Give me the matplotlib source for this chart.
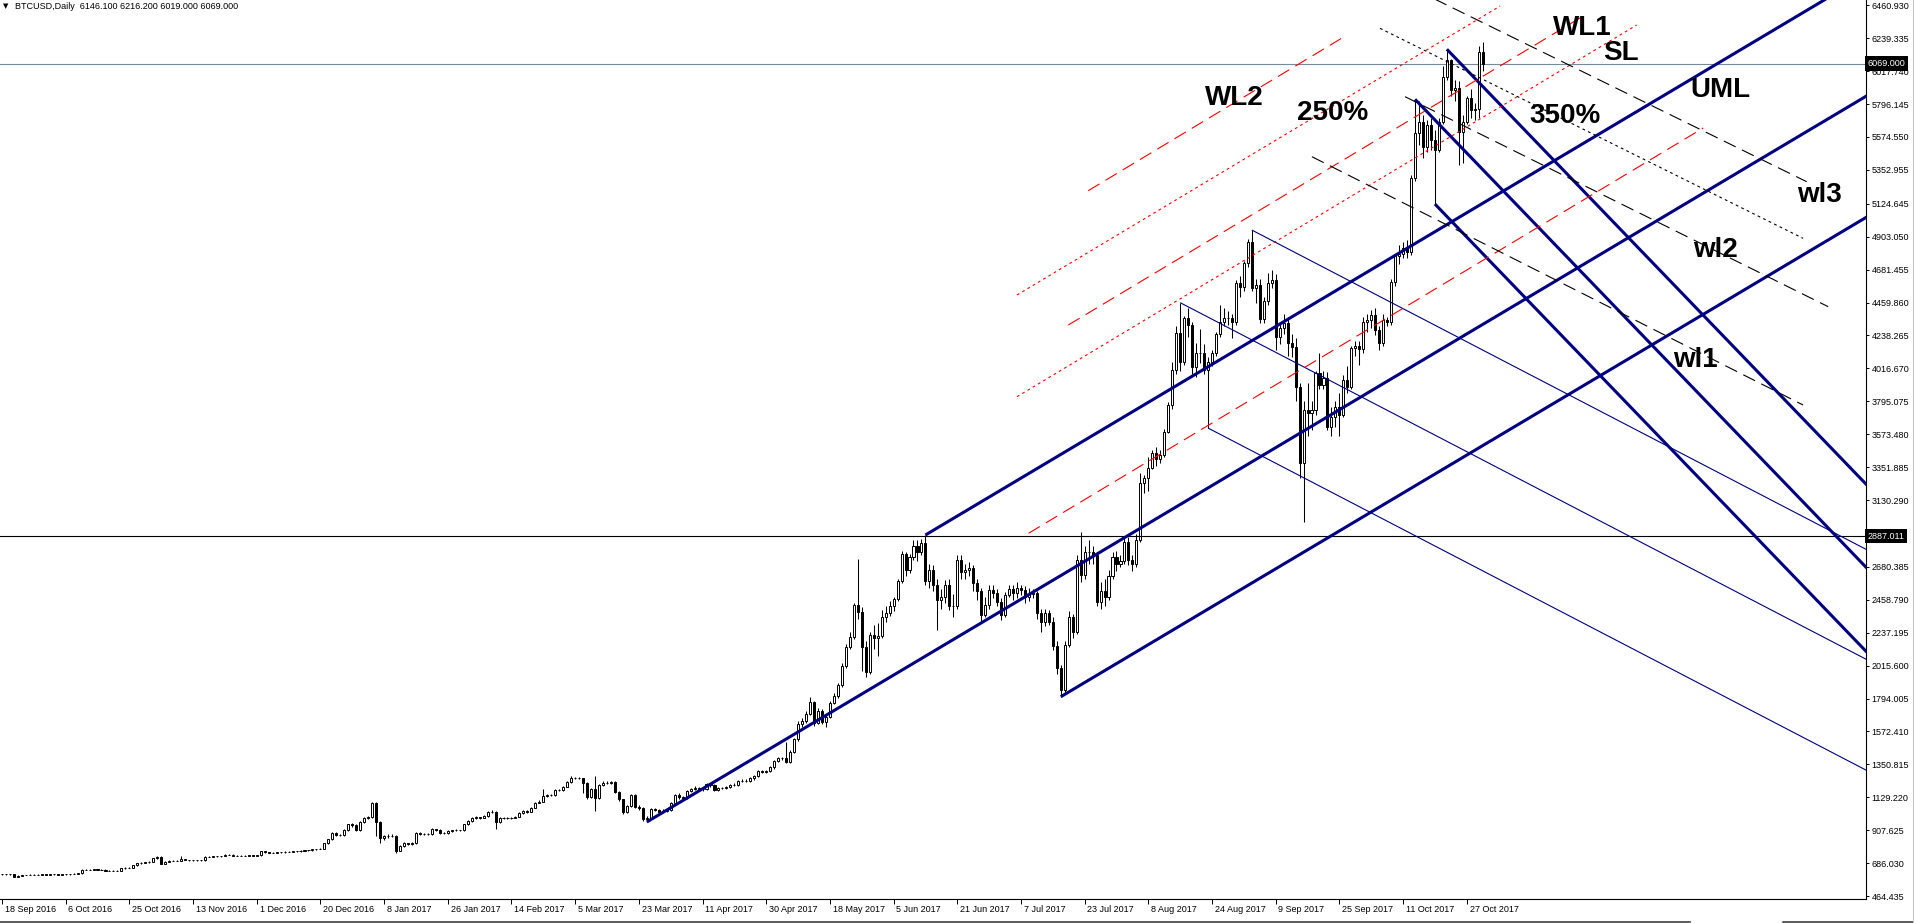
import matplotlib
matplotlib.use("Agg")
import matplotlib.pyplot as plt
from matplotlib.lines import Line2D
from matplotlib.transforms import blended_transform_factory


FIGURE_PNG = "out.png"
DPI = 100
FIG_W, FIG_H = 1915, 923
PLOT_RIGHT, PLOT_BOTTOM = 1866, 899

# visible window: bar index and price
X_MIN, X_MAX = -0.5, 468.3
Y_MIN, Y_MAX = 444.5, 6496.6

HEADER = "BTCUSD,Daily  6146.100 6216.200 6019.000 6069.000"

# daily bars, 18 Sep 2016 .. end of Oct 2017 (open = previous close)
FIRST_OPEN = 615
CLOSES = [
  611, 610, 610, 594, 601, 606, 607, 608, 608, 609,
  610, 609, 610, 611, 609, 610, 611, 614, 616, 617,
  643, 643, 642, 644, 643, 642, 636, 635, 635, 636,
  652, 654, 653, 672, 684, 688, 692, 695, 718, 728,
  682, 696, 702, 701, 703, 714, 707, 706, 705, 706,
  705, 729, 729, 731, 733, 734, 742, 743, 736, 735,
  737, 736, 738, 737, 740, 767, 760, 757, 756, 758,
  760, 762, 763, 765, 767, 770, 772, 774, 780, 781,
  783, 819, 846, 891, 878, 875, 909, 947, 942, 909,
  965, 992, 994, 1088, 965, 853, 866, 870, 868, 770,
  801, 819, 815, 819, 886, 880, 880, 882, 913, 910,
  887, 887, 902, 907, 907, 907, 947, 970, 992, 994,
  992, 1003, 1032, 1032, 961, 992, 988, 992, 992, 999,
  1026, 1037, 1032, 1059, 1093, 1100, 1138, 1145, 1145, 1178,
  1178, 1201, 1234, 1257, 1257, 1257, 1223, 1129, 1183, 1122,
  1212, 1228, 1228, 1230, 1167, 1115, 1032, 1070, 1145, 1066,
  1055, 981, 990, 1048, 1043, 1032, 1040, 1042, 1088, 1144,
  1128, 1122, 1171, 1183, 1194, 1186, 1183, 1216, 1212, 1180,
  1190, 1192, 1201, 1212, 1214, 1239, 1240, 1241, 1257, 1272,
  1306, 1302, 1306, 1330, 1373, 1391, 1391, 1369, 1436, 1519,
  1620, 1643, 1688, 1773, 1632, 1710, 1638, 1672, 1766, 1811,
  1885, 2015, 2143, 2210, 2423, 2378, 2143, 1975, 2222, 2200,
  2215, 2345, 2372, 2417, 2464, 2585, 2765, 2659, 2749, 2821,
  2782, 2843, 2587, 2659, 2558, 2457, 2475, 2558, 2417, 2420,
  2727, 2648, 2659, 2670, 2569, 2520, 2356, 2423, 2524, 2502,
  2446, 2356, 2491, 2529, 2507, 2536, 2524, 2480, 2498, 2502,
  2372, 2311, 2372, 2311, 2148, 1997, 1851, 2154, 2341, 2244,
  2727, 2626, 2782, 2782, 2760, 2446, 2520, 2480, 2620, 2750,
  2700, 2720, 2850, 2730, 2700, 2860, 3243, 3276, 3344, 3445,
  3404, 3434, 3590, 3770, 4006, 4252, 4062, 4353, 4308, 4028,
  4120, 4118, 4006, 4062, 4118, 4248, 4330, 4353, 4353, 4330,
  4589, 4562, 4724, 4869, 4555, 4578, 4347, 4473, 4589, 4612,
  4230, 4286, 4324, 4185, 4160, 3894, 3377, 3736, 3714, 3736,
  3983, 3905, 3950, 3624, 3692, 3759, 3700, 3938, 3894, 4152,
  4170, 4150, 4331, 4340, 4376, 4275, 4185, 4342, 4331, 4600,
  4770, 4790, 4830, 4800, 5300, 5600, 5678, 5509, 5655, 5554,
  5487, 5678, 5980, 6093, 5891, 5902, 5610, 5678, 5835, 5756,
  5760, 6146, 6069,
]
HIGHS = [
  616, 613, 612, 611, 603, 608, 609, 610, 610, 611,
  612, 612, 612, 613, 613, 612, 613, 616, 618, 620,
  648, 646, 646, 647, 646, 645, 644, 638, 638, 639,
  655, 657, 657, 676, 688, 692, 696, 699, 722, 733,
  732, 699, 705, 705, 706, 735, 716, 710, 709, 709,
  709, 732, 733, 734, 736, 737, 745, 746, 745, 739,
  740, 740, 741, 741, 743, 771, 770, 763, 760, 761,
  763, 765, 766, 768, 770, 773, 775, 777, 783, 784,
  786, 823, 850, 896, 896, 884, 914, 952, 958, 948,
  970, 998, 1000, 1100, 1095, 972, 878, 880, 882, 876,
  808, 825, 824, 826, 895, 893, 888, 890, 920, 918,
  914, 894, 908, 912, 913, 912, 952, 976, 998, 1000,
  999, 1008, 1036, 1043, 1038, 997, 996, 998, 998, 1005,
  1030, 1042, 1041, 1064, 1098, 1108, 1183, 1152, 1152, 1184,
  1186, 1206, 1240, 1273, 1264, 1264, 1262, 1232, 1190, 1273,
  1220, 1236, 1236, 1238, 1240, 1172, 1120, 1078, 1152, 1150,
  1076, 1062, 1000, 1058, 1055, 1050, 1048, 1050, 1095, 1152,
  1158, 1140, 1178, 1192, 1202, 1200, 1194, 1224, 1225, 1218,
  1198, 1200, 1208, 1220, 1224, 1246, 1250, 1250, 1265, 1280,
  1315, 1315, 1314, 1340, 1382, 1400, 1402, 1503, 1445, 1525,
  1640, 1660, 1712, 1802, 1780, 1730, 1722, 1690, 1775, 1830,
  1900, 2030, 2160, 2240, 2440, 2731, 2410, 2180, 2240, 2290,
  2300, 2390, 2420, 2450, 2480, 2600, 2785, 2780, 2770, 2860,
  2860, 2870, 2895, 2700, 2690, 2600, 2530, 2590, 2600, 2500,
  2760, 2760, 2700, 2710, 2690, 2600, 2540, 2480, 2560, 2560,
  2530, 2470, 2510, 2560, 2560, 2580, 2560, 2550, 2540, 2530,
  2520, 2400, 2400, 2390, 2340, 2180, 2020, 2180, 2380, 2360,
  2760, 2917, 2820, 2860, 2820, 2780, 2580, 2600, 2660, 2780,
  2790, 2760, 2890, 2880, 2760, 2900, 3310, 3300, 3420, 3470,
  3490, 3470, 3610, 3790, 4060, 4300, 4459, 4370, 4420, 4330,
  4190, 4280, 4180, 4090, 4140, 4260, 4443, 4420, 4400, 4380,
  4610, 4640, 4740, 4890, 4948, 4620, 4620, 4500, 4660, 4680,
  4650, 4330, 4380, 4360, 4250, 4220, 3920, 3800, 3920, 3800,
  4000, 4120, 4000, 3990, 3760, 3800, 3850, 3970, 4030, 4170,
  4200, 4200, 4360, 4380, 4410, 4420, 4300, 4380, 4360, 4620,
  4790, 4850, 4870, 4880, 5320, 5828, 5820, 5720, 5690, 5700,
  5620, 5700, 6050, 6165, 6100, 5960, 5950, 5720, 5850, 5900,
  5800, 6190, 6216,
]
LOWS = [
  609, 608, 607, 590, 590, 599, 604, 605, 606, 606,
  607, 607, 607, 608, 607, 607, 608, 609, 612, 613,
  615, 640, 639, 640, 640, 639, 633, 632, 632, 633,
  634, 649, 650, 650, 669, 680, 684, 688, 692, 714,
  678, 679, 693, 698, 698, 700, 704, 703, 702, 702,
  702, 702, 725, 726, 729, 730, 731, 739, 733, 732,
  732, 733, 733, 734, 734, 737, 757, 754, 752, 753,
  755, 757, 759, 760, 762, 764, 767, 769, 771, 777,
  778, 780, 815, 842, 870, 866, 870, 900, 930, 900,
  905, 954, 985, 988, 868, 824, 845, 858, 860, 752,
  765, 795, 808, 810, 815, 872, 872, 874, 878, 902,
  882, 880, 884, 898, 900, 900, 903, 942, 965, 986,
  985, 988, 999, 1025, 913, 955, 982, 984, 986, 988,
  994, 1020, 1026, 1028, 1054, 1088, 1095, 1130, 1136, 1140,
  1170, 1172, 1196, 1228, 1250, 1250, 1160, 1120, 1122, 1039,
  1115, 1205, 1220, 1222, 1160, 1105, 1020, 1025, 1066, 1058,
  1045, 972, 963, 985, 1035, 1025, 1026, 1032, 1038, 1080,
  1118, 1112, 1115, 1165, 1175, 1180, 1172, 1175, 1200, 1170,
  1172, 1182, 1185, 1195, 1205, 1208, 1230, 1232, 1234, 1248,
  1265, 1292, 1295, 1298, 1322, 1365, 1380, 1360, 1360, 1430,
  1505, 1600, 1630, 1680, 1610, 1620, 1625, 1600, 1660, 1755,
  1800, 1870, 2000, 2130, 2195, 2330, 1979, 1940, 1960, 2130,
  2080, 2200, 2310, 2350, 2380, 2450, 2570, 2620, 2640, 2730,
  2720, 2760, 2560, 2540, 2520, 2255, 2400, 2440, 2390, 2340,
  2400, 2600, 2600, 2620, 2520, 2460, 2300, 2340, 2400, 2470,
  2420, 2320, 2340, 2480, 2460, 2470, 2490, 2440, 2450, 2470,
  2330, 2240, 2280, 2290, 2120, 1960, 1806, 1830, 2140, 2200,
  2230, 2580, 2600, 2700, 2700, 2420, 2400, 2420, 2460, 2600,
  2650, 2680, 2700, 2690, 2650, 2680, 2850, 3180, 3190, 3340,
  3360, 3380, 3420, 3580, 3740, 3980, 4000, 4040, 4230, 3980,
  3960, 4050, 3980, 3615, 4030, 4100, 4230, 4300, 4310, 4220,
  4310, 4500, 4540, 4700, 4540, 4460, 4320, 4320, 4440, 4560,
  4140, 4180, 4250, 4100, 4090, 3800, 3280, 2980, 3560, 3600,
  3700, 3880, 3880, 3600, 3560, 3620, 3560, 3690, 3850, 3880,
  4100, 4040, 4120, 4260, 4290, 4240, 4140, 4170, 4300, 4310,
  4570, 4720, 4760, 4760, 4780, 5280, 5520, 5430, 5470, 5490,
  5123, 5470, 5660, 5960, 5850, 5820, 5386, 5400, 5660, 5700,
  5690, 5700, 6019,
]

DATE_TICK_BARS = [0, 16, 32, 48, 64, 80, 96, 112, 128, 144, 160, 176,
                  192, 208, 224, 240, 256, 272, 288, 304, 320, 336, 352, 368]
DATE_LABELS = [
  "18 Sep 2016", "6 Oct 2016", "25 Oct 2016", "13 Nov 2016", "1 Dec 2016",
  "20 Dec 2016", "8 Jan 2017", "26 Jan 2017", "14 Feb 2017", "5 Mar 2017",
  "23 Mar 2017", "11 Apr 2017", "30 Apr 2017", "18 May 2017", "5 Jun 2017",
  "21 Jun 2017", "7 Jul 2017", "23 Jul 2017", "8 Aug 2017", "24 Aug 2017",
  "9 Sep 2017", "25 Sep 2017", "11 Oct 2017", "27 Oct 2017",
]
PRICE_TICKS = [
  6460.930, 6239.335, 6017.740, 5796.145, 5574.550, 5352.955, 5124.645,
  4903.050, 4681.455, 4459.860, 4238.265, 4016.670, 3795.075, 3573.480,
  3351.885, 3130.290, 2680.385, 2458.790, 2237.195, 2015.600, 1794.005,
  1572.410, 1350.815, 1129.220, 907.625, 686.030, 464.435,
]

BID_PRICE = 6069.000
LEVEL_PRICE = 2887.011

# pitchforks: anchor bars/prices and tine slope (price per bar)
FORK_MAIN_BARS = [162, 232, 266]
FORK_MAIN_PRICES = [963, 2895, 1806]
FORK_MAIN_SLOPE = 15.95
FORK_AUG_BARS = [296, 314, 303]
FORK_AUG_PRICES = [4459, 4948, 3615]
FORK_AUG_SLOPE = -13.93
FORK_OCT_BARS = [363, 355, 360]
FORK_OCT_PRICES = [6165, 5828, 5123]
FORK_OCT_SLOPE = -27.8
FORK_END_BAR = 472

# red warning lines (WL2, 250%, WL1, SL, half line)
RED_START_BARS = [272.9, 255.0, 267.9, 255.0, 257.9]
RED_START_PRICES = [5212.8, 4510.7, 4308.7, 3826.0, 2906.4]
RED_END_BARS = [337.9, 376.4, 397.7, 410.7, 427.4]
RED_END_PRICES = [6260.9, 6456.2, 6395.7, 6328.3, 5634.9]
RED_STYLES = ["dash", "dot", "dash", "dot", "dash"]

# black warning lines (wl3, 350%, wl2, wl1)
BLACK_START_BARS = [355.0, 346.2, 352.5, 329.1]
BLACK_START_PRICES = [6568.0, 6306.0, 5845.6, 5441.7]
BLACK_END_BARS = [453.4, 452.5, 458.8, 452.5]
BLACK_END_PRICES = [5273.4, 4892.0, 4432.0, 3770.0]
BLACK_STYLES = ["dash", "dot", "dash", "dash"]

LABELS = ["WL1", "SL", "UML", "350%", "250%", "WL2", "wl3", "wl2", "wl1"]
LABEL_BARS = [397.0, 406.8, 431.7, 392.7, 334.2, 309.5, 456.5, 430.4, 425.4]
LABEL_PRICES = [6261, 6092.7, 5843.6, 5668.6, 5688.8, 5789.7, 5136.7, 4766.5, 4026]

NAVY = "#000080"
RED = "#ff0000"
INK = "#000000"
BID_GREY = "#778899"
PAPER = "#ffffff"

LINE_STYLES = {
  "dash": (0, (9.5, 5.0)),
  "dot": (0, (2.0, 2.4)),
}


def _tine(ax, bar, price, slope, lw):
  xs = [bar, FORK_END_BAR]
  ys = [price, price + slope * (FORK_END_BAR - bar)]
  ax.plot(xs, ys, color=NAVY, linewidth=lw, solid_capstyle="butt", zorder=4)


def plot_btcusd_daily():
  plt.rcParams.update({
    "font.family": ["Liberation Sans", "DejaVu Sans"],
    "lines.scale_dashes": False,
  })

  fig = plt.figure(figsize=(FIG_W / DPI, FIG_H / DPI), dpi=DPI, facecolor=PAPER)
  ax = fig.add_axes([0, (FIG_H - PLOT_BOTTOM) / FIG_H, PLOT_RIGHT / FIG_W, PLOT_BOTTOM / FIG_H])
  ax.set_facecolor(PAPER)

  opens = [FIRST_OPEN] + CLOSES[:-1]
  bars = list(range(len(CLOSES)))

  # horizontal levels
  ax.axhline(BID_PRICE, color=BID_GREY, linewidth=0.8, zorder=1)
  ax.axhline(LEVEL_PRICE, color=INK, linewidth=0.8, zorder=4)

  # candles
  ax.vlines(bars, LOWS, HIGHS, color=INK, linewidth=0.75, zorder=2)
  bottoms = [min(o, c) for o, c in zip(opens, CLOSES)]
  heights = [abs(c - o) for o, c in zip(opens, CLOSES)]
  faces = [PAPER if c >= o else INK for o, c in zip(opens, CLOSES)]
  ax.bar(bars, heights, bottom=bottoms, width=0.52, color=faces,
         edgecolor=INK, linewidth=0.7, zorder=3)

  # pitchforks
  for bar, price in zip(FORK_MAIN_BARS, FORK_MAIN_PRICES):
    _tine(ax, bar, price, FORK_MAIN_SLOPE, 2.2)
  for bar, price in zip(FORK_AUG_BARS, FORK_AUG_PRICES):
    _tine(ax, bar, price, FORK_AUG_SLOPE, 0.8)
  for bar, price in zip(FORK_OCT_BARS, FORK_OCT_PRICES):
    _tine(ax, bar, price, FORK_OCT_SLOPE, 2.2)

  # warning lines
  for x0, y0, x1, y1, style in zip(RED_START_BARS, RED_START_PRICES,
                                   RED_END_BARS, RED_END_PRICES, RED_STYLES):
    ax.plot([x0, x1], [y0, y1], color=RED, linewidth=0.8,
            linestyle=LINE_STYLES[style], zorder=4)
  for x0, y0, x1, y1, style in zip(BLACK_START_BARS, BLACK_START_PRICES,
                                   BLACK_END_BARS, BLACK_END_PRICES, BLACK_STYLES):
    ax.plot([x0, x1], [y0, y1], color=INK, linewidth=0.8,
            linestyle=LINE_STYLES[style], zorder=4)

  for text, bar, price in zip(LABELS, LABEL_BARS, LABEL_PRICES):
    ax.text(bar, price, text, ha="center", va="baseline", fontsize=20,
            fontweight="bold", color=INK, zorder=6)

  ax.set_xlim(X_MIN, X_MAX)
  ax.set_ylim(Y_MIN, Y_MAX)

  # price scale on the right
  ax.yaxis.tick_right()
  ax.set_yticks(PRICE_TICKS)
  ax.set_yticklabels([f"{v:.3f}" for v in PRICE_TICKS])
  ax.tick_params(axis="y", direction="out", length=2.5, width=0.7, pad=1.5,
                 labelsize=6.5, colors=INK)

  # date scale
  ax.set_xticks(DATE_TICK_BARS)
  ax.set_xticklabels([])
  ax.tick_params(axis="x", direction="out", length=3.5, width=0.7, colors=INK)
  date_trans = blended_transform_factory(ax.transData, ax.transAxes)
  for bar, label in zip(DATE_TICK_BARS, DATE_LABELS):
    ax.text(bar + 0.7, -10 / PLOT_BOTTOM, label, transform=date_trans,
            ha="left", va="center", fontsize=6.5, color=INK, clip_on=False)

  for side in ["top", "left"]:
    ax.spines[side].set_visible(False)
  for side in ["right", "bottom"]:
    ax.spines[side].set_color(INK)
    ax.spines[side].set_linewidth(0.8)

  # price boxes on the scale
  box_trans = blended_transform_factory(ax.transAxes, ax.transData)
  for price in [BID_PRICE, LEVEL_PRICE]:
    ax.text(1.0 + 2 / PLOT_RIGHT, price, f"{price:.3f}", transform=box_trans,
            ha="left", va="center", fontsize=6.5, color=PAPER, clip_on=False,
            zorder=10,
            bbox=dict(boxstyle="square,pad=0.28", facecolor=INK, edgecolor="none"))

  # header
  fig.text(3 / FIG_W, 1 - 6.5 / FIG_H, "\u25bc", ha="left", va="center",
           fontsize=5, color=INK, family=["DejaVu Sans"])
  fig.text(15 / FIG_W, 1 - 6.5 / FIG_H, HEADER, ha="left", va="center",
           fontsize=6.5, color=INK)

  # window border bits below the scale
  fig.add_artist(Line2D([0, 1690 / FIG_W], [1 - 921.5 / FIG_H] * 2,
                        color="#404040", linewidth=1.2))
  fig.add_artist(Line2D([1783 / FIG_W, 1], [1 - 921.5 / FIG_H] * 2,
                        color="#404040", linewidth=1.2))
  fig.add_artist(Line2D([1913 / FIG_W] * 2, [0, 1], color="#c8c8c8", linewidth=0.8))

  fig.savefig(FIGURE_PNG, dpi=DPI, facecolor=fig.get_facecolor())
  plt.close(fig)


if __name__ == "__main__":
  plot_btcusd_daily()
